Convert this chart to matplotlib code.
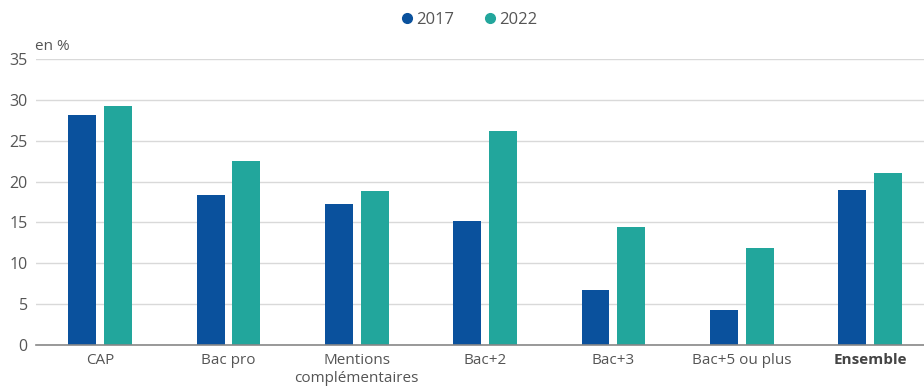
import numpy as np
import matplotlib.pyplot as plt
from matplotlib.lines import Line2D

plt.rcParams['font.family'] = ['Open Sans', 'DejaVu Sans']

categories = ['CAP', 'Bac pro', 'Mentions\ncomplémentaires', 'Bac+2', 'Bac+3',
              'Bac+5 ou plus', 'Ensemble']
values_2017 = [28.2, 18.3, 17.2, 15.2, 6.7, 4.3, 19.0]
values_2022 = [29.3, 22.5, 18.8, 26.2, 14.5, 11.9, 21.1]

c2017 = '#0a519d'
c2022 = '#22a69c'
txt = '#555555'

fig = plt.figure(figsize=(9.24, 3.86), dpi=100)
ax = fig.add_axes([36 / 924, 1 - 345 / 386, 888 / 924, 286 / 386])

x = np.arange(len(categories))
w = 0.218
off = 0.14
ax.bar(x - off, values_2017, w, color=c2017, zorder=3)
ax.bar(x + off, values_2022, w, color=c2022, zorder=3)

ax.set_xlim(-0.5, 6.42)
ax.set_ylim(0, 35)
ax.set_yticks(range(0, 36, 5))
ax.yaxis.grid(True, color='#d9d9d9', linewidth=1, zorder=0)
ax.tick_params(axis='y', length=0, pad=6, labelsize=11.5, labelcolor=txt)
ax.tick_params(axis='x', length=0, pad=6, labelsize=11, labelcolor=txt)
ax.set_xticks(x)
ax.set_xticklabels(categories, linespacing=1.2)
lbl = ax.get_xticklabels()[-1]
lbl.set_fontweight('bold')
lbl.set_color('#444444')

for s in ['top', 'right', 'left']:
    ax.spines[s].set_visible(False)
ax.spines['bottom'].set_color('#888888')
ax.spines['bottom'].set_linewidth(1.2)
ax.spines['bottom'].set_zorder(4)

fig.text(35 / 924, 1 - 46 / 386, 'en %', fontsize=11, color=txt, va='center')

handles = [Line2D([], [], marker='o', linestyle='', color=c2017, markersize=7),
           Line2D([], [], marker='o', linestyle='', color=c2022, markersize=7)]
fig.legend(handles, ['2017', '2022'], loc='center', bbox_to_anchor=(468 / 924, 1 - 20 / 386),
           ncol=2, frameon=False, fontsize=12, handletextpad=0.1, columnspacing=1.6,
           handlelength=1.0, labelcolor=txt)

fig.savefig('out.png', dpi=100)
